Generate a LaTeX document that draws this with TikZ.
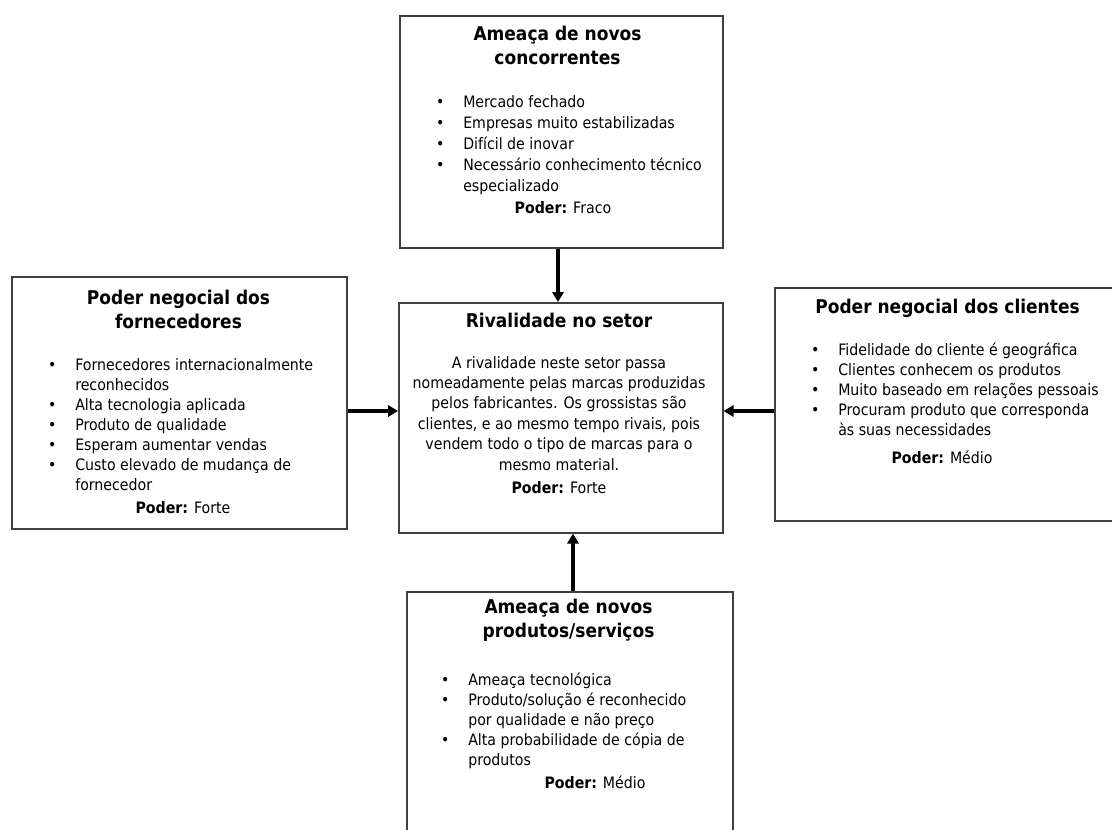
\documentclass[tikz,border=0pt]{standalone}
\usepackage{fontspec}
\setmainfont{DejaVu Sans}[FakeStretch=0.9]
\usetikzlibrary{arrows.meta}
% bullet hung to the left of an item line
\newcommand{\ib}{\llap{\textbullet\hspace{14.1pt}}}
\begin{document}
\begin{tikzpicture}[x=0.75pt,y=-0.75pt,
  box/.style={draw=black!75, line width=1.2pt, anchor=north west, inner sep=0pt},
  title/.style={anchor=base, align=center, inner sep=0pt, font=\fontsize{14.2pt}{18pt}\selectfont\bfseries},
  items/.style={anchor=base west, align=left, inner sep=0pt, font=\fontsize{11.8pt}{15pt}\selectfont},
  body/.style={anchor=base, align=center, inner sep=0pt, font=\fontsize{11.8pt}{15.3pt}\selectfont},
  power/.style={anchor=base, inner sep=0pt, font=\fontsize{11.8pt}{15pt}\selectfont},
  force/.style={line width=2.6pt, -{Triangle[length=7.5pt,width=8.5pt]}}
]
\useasboundingbox (0,0) rectangle (1112,829);
\clip (0,0) rectangle (1112,829);

% the five boxes
\node[box, minimum width=242.25pt, minimum height=174pt] (entrants) at (399,15) {};
\node[box, minimum width=251.25pt, minimum height=189pt] (suppliers) at (11,276) {};
\node[box, minimum width=243pt, minimum height=172.5pt] (rivalry) at (398,302) {};
\node[box, minimum width=261pt, minimum height=174.75pt] (buyers) at (774,287) {};
\node[box, minimum width=244.5pt, minimum height=186.75pt] (substitutes) at (406,591) {};

% multi-line texts are placed by the baseline of their last line

% threat of new entrants
\node[title] (entrants-title) at (557.5,64) {Ameaça de novos\\concorrentes};
\node[items, font=\fontsize{11.8pt}{15.75pt}\selectfont] (entrants-list) at (463,191)
  {\ib Mercado fechado\\
   \ib Empresas muito estabilizadas\\
   \ib Difícil de inovar\\
   \ib Necessário conhecimento técnico\\
   especializado};
\node[power] (entrants-power) at (563,213) {\textbf{Poder:} Fraco};

% bargaining power of suppliers
\node[title] (suppliers-title) at (178.5,328) {Poder negocial dos\\fornecedores};
\node[items] (suppliers-list) at (75,490)
  {\ib Fornecedores internacionalmente\\
   reconhecidos\\
   \ib Alta tecnologia aplicada\\
   \ib Produto de qualidade\\
   \ib Esperam aumentar vendas\\
   \ib Custo elevado de mudança de\\
   fornecedor};
\node[power] (suppliers-power) at (183,513) {\textbf{Poder:} Forte};

% rivalry
\node[title] (rivalry-title) at (559,327) {Rivalidade no setor};
\node[body] (rivalry-text) at (559,470)
  {A rivalidade neste setor passa\\
   nomeadamente pelas marcas produzidas\\
   pelos fabricantes. Os grossistas são\\
   clientes, e ao mesmo tempo rivais, pois\\
   vendem todo o tipo de marcas para o\\
   mesmo material.};
\node[power] (rivalry-power) at (559,493) {\textbf{Poder:} Forte};

% bargaining power of buyers
\node[title] (buyers-title) at (947.5,313) {Poder negocial dos clientes};
\node[items] (buyers-list) at (838,435)
  {\ib Fidelidade do cliente é geográfica\\
   \ib Clientes conhecem os produtos\\
   \ib Muito baseado em relações pessoais\\
   \ib Procuram produto que corresponda\\
   às suas necessidades};
\node[power] (buyers-power) at (942,463) {\textbf{Poder:} Médio};

% threat of substitutes
\node[title] (substitutes-title) at (568.5,637) {Ameaça de novos\\produtos/serviços};
\node[items] (substitutes-list) at (468,765)
  {\ib Ameaça tecnológica\\
   \ib Produto/solução é reconhecido\\
   por qualidade e não preço\\
   \ib Alta probabilidade de cópia de\\
   produtos};
\node[power] (substitutes-power) at (595,788) {\textbf{Poder:} Médio};

% forces acting on the rivalry
\coordinate (xtop) at (558,0);
\coordinate (xbot) at (573,0);
\coordinate (ymid) at (0,411);
\draw[force] (entrants.south -| xtop) -- (rivalry.north -| xtop);
\draw[force] (suppliers.east |- ymid) -- (rivalry.west |- ymid);
\draw[force] (buyers.west |- ymid) -- (rivalry.east |- ymid);
\draw[force] (substitutes.north -| xbot) -- (rivalry.south -| xbot);
\end{tikzpicture}
\end{document}
